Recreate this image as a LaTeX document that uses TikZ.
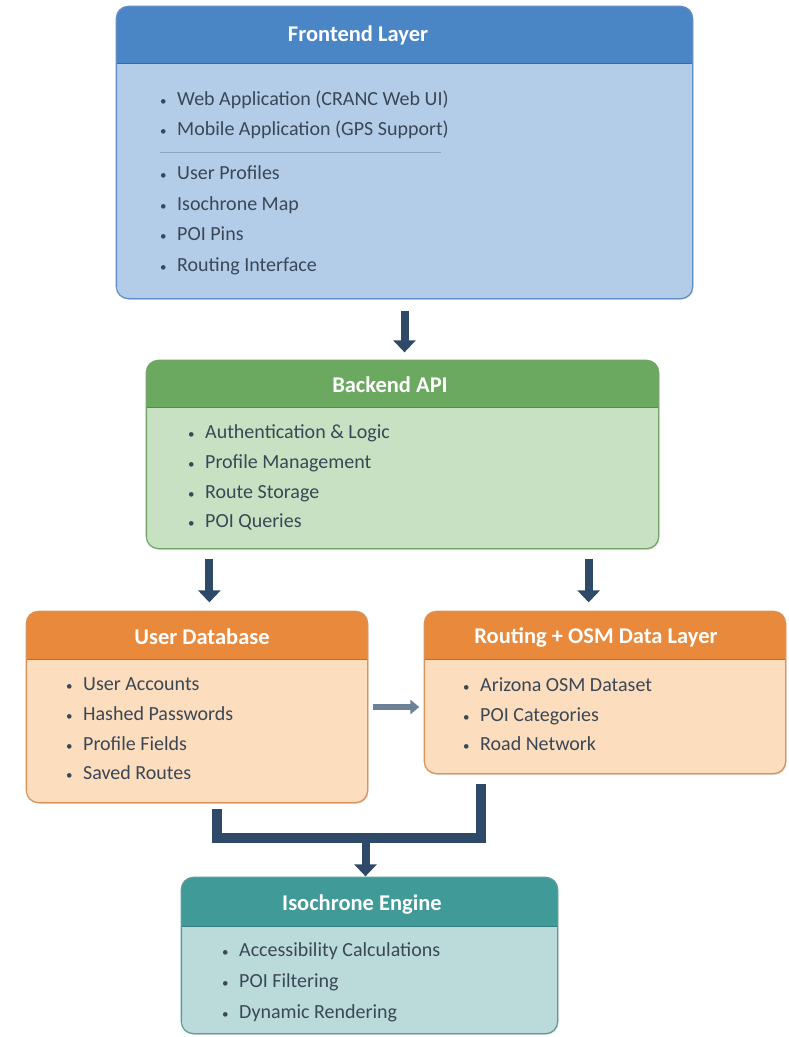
\documentclass[tikz,border=0pt]{standalone}
\usepackage{fontspec}
\setmainfont{Carlito}
\usetikzlibrary{arrows.meta,fit,shadows}
\definecolor{feHead}{HTML}{4A86C6}
\definecolor{feBody}{HTML}{B3CDE8}
\definecolor{feBorder}{HTML}{5E8EC4}
\definecolor{beHead}{HTML}{6BA960}
\definecolor{beBody}{HTML}{C8E1C2}
\definecolor{beBorder}{HTML}{72A566}
\definecolor{orHead}{HTML}{E9893B}
\definecolor{orBody}{HTML}{FCDDBD}
\definecolor{orBorder}{HTML}{D9925A}
\definecolor{tlHead}{HTML}{3F9A98}
\definecolor{tlBody}{HTML}{BBDBDB}
\definecolor{tlBorder}{HTML}{5C9D9C}
\definecolor{arrowc}{HTML}{2E4A68}
\definecolor{larrowc}{HTML}{6C8096}
\definecolor{txt}{HTML}{3A4756}
\definecolor{sepc}{HTML}{8BA6C4}
\newcommand{\hdrfill}[3]{%
  \begin{scope}
    \clip[rounded corners=12pt] (#1.south west) rectangle (#1.north east);
    \fill[#3] (#1.north west) rectangle ([yshift=-#2]#1.north east);
    \draw[#3!80!black, line width=0.8pt] ([yshift=-#2]#1.north west) -- ([yshift=-#2]#1.north east);
  \end{scope}}
\newcommand{\bdr}[2]{\draw[rounded corners=12pt, line width=1.3pt, #2] (#1.south west) rectangle (#1.north east);}
\tikzset{
  layer/.style={rounded corners=12pt, inner sep=0pt, line width=1.3pt,
    drop shadow={shadow xshift=1.5pt, shadow yshift=-2pt, opacity=0.22}},
  ttl/.style={font=\bfseries\fontsize{22.5}{26}\selectfont, text=white, inner sep=0pt},
  item/.style={font=\fontsize{20}{24}\selectfont, text=txt, anchor=west, inner sep=0pt,
    text height=14pt, text depth=4pt},
  arr/.style={line width=8pt, draw=arrowc, -{Triangle[width=22pt,length=12pt]}},
  larr/.style={line width=5.5pt, draw=larrowc, -{Triangle[width=14pt,length=9pt]}},
}
\newcommand{\bul}{\makebox[17pt][l]{\fontsize{13}{13}\selectfont •}}
\begin{document}
\begin{tikzpicture}[x=1pt,y=-1pt]
\useasboundingbox (0,0) rectangle (788,1037);
% Frontend
\node[layer, fill=feBody, fit={(117,7) (692,298)}] (fe) {};
\hdrfill{fe}{57pt}{feHead}
\bdr{fe}{feBorder}
\node[ttl] (fet) at (358,35) {Frontend Layer};
\node[item] (fe1) at (160,100) {\bul Web Application (CRANC Web UI)};
\node[item] (fe2) at (160,130) {\bul Mobile Application (GPS Support)};
\draw[sepc, line width=1pt] (160,152) -- (441,152);
\node[item] (fe3) at (160,174) {\bul User Profiles};
\node[item] (fe4) at (160,205) {\bul Isochrone Map};
\node[item] (fe5) at (160,235) {\bul POI Pins};
\node[item] (fe6) at (160,266) {\bul Routing Interface};
% Backend
\node[layer, fill=beBody, fit={(147,361) (658,548)}] (be) {};
\hdrfill{be}{47pt}{beHead}
\bdr{be}{beBorder}
\node[ttl] (bet) at (390,385) {Backend API};
\node[item] (be1) at (188,433) {\bul Authentication \& Logic};
\node[item] (be2) at (188,463) {\bul Profile Management};
\node[item] (be3) at (188,493) {\bul Route Storage};
\node[item] (be4) at (188,522) {\bul POI Queries};
% User Database
\node[layer, fill=orBody, fit={(27,612) (367,802)}] (ud) {};
\hdrfill{ud}{48pt}{orHead}
\bdr{ud}{orBorder}
\node[ttl] (udt) at (202,637) {User Database};
\node[item] (ud1) at (66,685) {\bul User Accounts};
\node[item] (ud2) at (66,715) {\bul Hashed Passwords};
\node[item] (ud3) at (66,745) {\bul Profile Fields};
\node[item] (ud4) at (66,774) {\bul Saved Routes};
% Routing
\node[layer, fill=orBody, fit={(425,612) (785,773)}] (rt) {};
\hdrfill{rt}{48pt}{orHead}
\bdr{rt}{orBorder}
\node[ttl] (rtt) at (596,637) {Routing + OSM Data Layer};
\node[item] (rt1) at (463,686) {\bul Arizona OSM Dataset};
\node[item] (rt2) at (463,716) {\bul POI Categories};
\node[item] (rt3) at (463,745) {\bul Road Network};
% Isochrone
\node[layer, fill=tlBody, fit={(182,878) (557,1033)}] (iso) {};
\hdrfill{iso}{49pt}{tlHead}
\bdr{iso}{tlBorder}
\node[ttl] (isot) at (362,905) {Isochrone Engine};
\node[item] (iso1) at (222,951) {\bul Accessibility Calculations};
\node[item] (iso2) at (222,982) {\bul POI Filtering};
\node[item] (iso3) at (222,1013) {\bul Dynamic Rendering};
% Connectors
\draw[arr, shorten <=12pt, shorten >=8pt] (fe.south) -- (fe.south |- be.north);
\draw[arr, shorten <=10pt, shorten >=9pt] ([xshift=63pt]be.south west) -- ([xshift=63pt]be.south west |- ud.north);
\draw[arr, shorten <=10pt, shorten >=9pt] ([xshift=-70pt]be.south east) -- ([xshift=-70pt]be.south east |- rt.north);
\draw[larr, shorten <=5pt, shorten >=5pt] (ud.east) -- (ud.east -| rt.west);
\coordinate (mrg) at ([xshift=-4pt]iso.north |- 0,838);
\draw[line width=10pt, arrowc] ([xshift=20pt,yshift=-6pt]ud.south) |- (mrg) -| ([xshift=57pt,yshift=-10pt]rt.south west);
\draw[arr, shorten >=1pt] ([yshift=-4pt]mrg) -- (mrg |- iso.north);
\end{tikzpicture}
\end{document}
